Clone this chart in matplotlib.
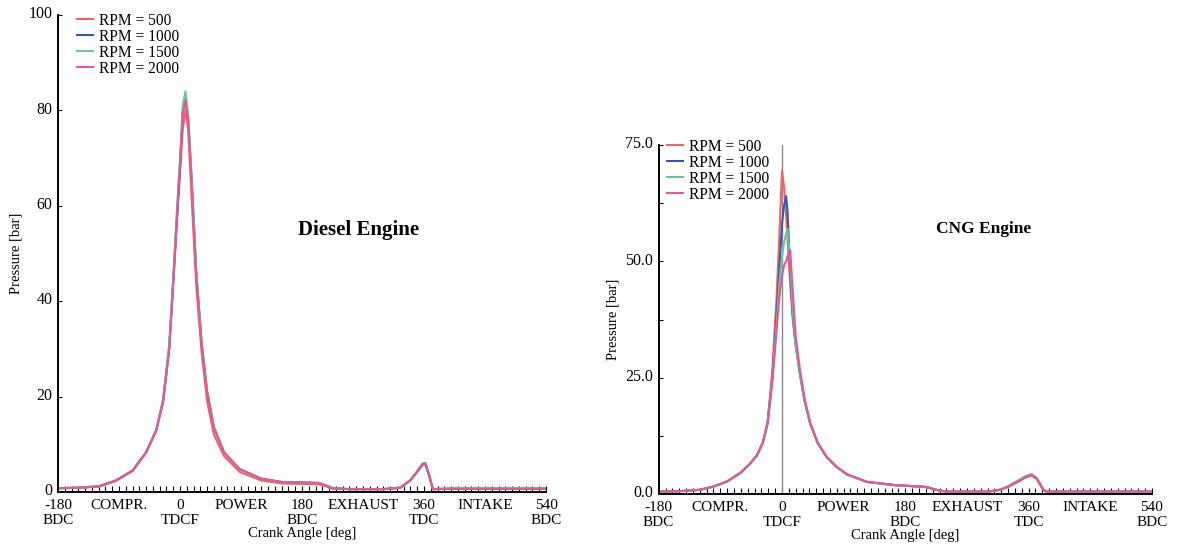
# Curvas de presion en el cilindro: motor diesel vs motor CNG

import matplotlib.pyplot as plt
from matplotlib.ticker import MultipleLocator
from matplotlib.transforms import ScaledTranslation

plt.rcParams['font.family'] = ['Liberation Serif', 'DejaVu Serif']

# Seccion 1: datos

rpm_labels = ['RPM = 500', 'RPM = 1000', 'RPM = 1500', 'RPM = 2000']
rpm_colors = ['#f26461', '#3a56b4', '#67c79b', '#e4579a']

tick_pos = [-180, -90, 0, 90, 180, 270, 360, 450, 540]
tick_txt = ['-180\nBDC', 'COMPR.', '0\nTDCF', 'POWER', '180\nBDC',
            'EXHAUST', '360\nTDC', 'INTAKE', '540\nBDC']

# motor diesel
theta_d = [-180, -150, -120, -95, -70, -50, -35, -25, -16, -10, -5, 0, 4, 8, 12,
           17, 24, 32, 40, 50, 65, 88, 120, 150, 180, 205, 215, 225, 250, 300,
           325, 340, 350, 358, 362, 368, 373, 400, 450, 500, 540]
p_d500 = [0.8, 0.9, 1.1, 2.3, 4.4, 8.3, 13, 19, 30, 44, 56, 67, 76, 80, 76,
          62, 43, 29, 19, 12, 7.5, 4.2, 2.4, 1.8, 1.7, 1.6, 1.2, 0.7, 0.6, 0.6,
          0.9, 2.4, 4.2, 5.7, 5.8, 3.2, 0.6, 0.7, 0.7, 0.7, 0.7]
p_d1000 = [0.8, 0.9, 1.2, 2.4, 4.5, 8.3, 13, 19, 30, 44, 56, 68, 80, 83, 78,
           66, 46, 31, 21, 13.5, 8.3, 4.8, 2.8, 2.1, 2.0, 1.9, 1.4, 0.8, 0.6, 0.6,
           0.9, 2.5, 4.3, 5.9, 6.0, 3.3, 0.6, 0.7, 0.7, 0.7, 0.7]
p_d1500 = [0.8, 0.9, 1.2, 2.4, 4.5, 8.4, 13, 19.5, 31, 45, 58, 70, 81, 84, 79,
           66, 46, 31, 21, 13.5, 8.3, 4.8, 2.8, 2.1, 2.0, 1.9, 1.4, 0.8, 0.6, 0.6,
           0.9, 2.5, 4.4, 6.0, 6.1, 3.4, 0.6, 0.8, 0.8, 0.8, 0.8]
p_d2000 = [0.8, 0.9, 1.2, 2.4, 4.5, 8.3, 13, 19, 30, 44, 57, 69, 79, 82, 78,
           65, 45, 31, 21, 13.5, 8.3, 4.8, 2.8, 2.1, 2.0, 1.9, 1.4, 0.8, 0.6, 0.6,
           0.9, 2.5, 4.3, 5.9, 6.0, 3.3, 0.6, 0.7, 0.7, 0.7, 0.7]

# motor CNG
theta_c = [-180, -150, -120, -100, -80, -61, -48, -37, -28, -21, -14, -8, -4, 0, 3,
           6, 8, 12, 16, 20, 26, 33, 41, 52, 65, 80, 95, 124, 165, 200,
           211, 225, 240, 300, 318, 330, 343, 355, 364, 372, 381, 386, 420, 480, 540]
p_c500 = [0.5, 0.6, 0.9, 1.6, 2.7, 4.5, 6.3, 8.2, 11, 15.5, 27, 42, 55, 69.5, 66,
          60, 55, 45, 37, 32, 26, 20, 15.2, 11, 8, 5.8, 4.2, 2.6, 1.9, 1.6,
          1.5, 0.9, 0.5, 0.5, 0.9, 1.5, 2.5, 3.5, 4.0, 3.2, 1.0, 0.5, 0.5, 0.5, 0.5]
p_c1000 = [0.5, 0.6, 0.9, 1.6, 2.7, 4.5, 6.3, 8.2, 11, 15.2, 25, 38, 48, 58, 62,
           64, 61, 48, 38, 32, 26, 20, 15.2, 11, 8, 5.8, 4.2, 2.6, 1.9, 1.6,
           1.5, 0.9, 0.5, 0.5, 0.9, 1.6, 2.6, 3.6, 4.1, 3.3, 1.0, 0.5, 0.5, 0.5, 0.5]
p_c1500 = [0.5, 0.6, 0.9, 1.6, 2.7, 4.5, 6.3, 8.2, 11, 15.2, 25, 36, 45, 51, 54,
           56, 57, 50, 39, 32, 26, 20, 15.2, 11, 8, 5.8, 4.2, 2.6, 1.9, 1.6,
           1.5, 0.9, 0.5, 0.5, 0.9, 1.7, 2.8, 3.8, 4.3, 3.5, 1.1, 0.5, 0.5, 0.5, 0.5]
p_c2000 = [0.5, 0.6, 0.9, 1.6, 2.7, 4.5, 6.3, 8.2, 11, 15.2, 24, 35, 42, 47, 49,
           50, 51, 52.4, 43, 34, 27, 20.5, 15.5, 11, 8, 5.8, 4.2, 2.6, 1.9, 1.6,
           1.5, 0.9, 0.5, 0.5, 0.9, 1.6, 2.6, 3.6, 4.1, 3.3, 1.0, 0.5, 0.5, 0.5, 0.5]

diesel = [p_d500, p_d1000, p_d1500, p_d2000]
cng = [p_c500, p_c1000, p_c1500, p_c2000]


# Seccion 2: grafica

fig = plt.figure(figsize=(11.77, 5.47), dpi=100)
ax1 = fig.add_axes([0.0493, 0.1005, 0.4146, 0.8721])
ax2 = fig.add_axes([0.5596, 0.0969, 0.4191, 0.6380])

def style_axis(ax, ymax):
    ax.set_xlim(-180, 540)
    ax.set_ylim(0, ymax)
    ax.spines['top'].set_visible(False)
    ax.spines['right'].set_visible(False)
    ax.spines['left'].set_linewidth(1.4)
    ax.spines['bottom'].set_linewidth(1.4)
    ax.set_xticks(tick_pos)
    ax.set_xticklabels(tick_txt)
    ax.xaxis.set_minor_locator(MultipleLocator(10))
    ax.tick_params(axis='x', which='both', direction='in', length=4, width=0.8,
                   labelsize=11, pad=5)
    ax.tick_params(axis='y', which='both', direction='in', length=3, width=0.8,
                   labelsize=11.5, pad=4)
    ax.set_xlabel('Crank Angle [deg]', fontsize=10.5, labelpad=0)
    ax.set_ylabel('Pressure [bar]', fontsize=10.5, labelpad=4)

def lift_ylabels(ax):
    # subir un poco las etiquetas del eje y (como en la original)
    up = ScaledTranslation(0, 2 / 72, fig.dpi_scale_trans)
    for lab in ax.get_yticklabels():
        lab.set_transform(lab.get_transform() + up)

leg_kw = dict(loc='upper left', frameon=False, fontsize=11.2, handlelength=1.0,
              handletextpad=0.4, labelspacing=0.0, borderaxespad=0)

# motor diesel
for p, c, lab in zip(diesel, rpm_colors, rpm_labels):
    ax1.plot(theta_d, p, color=c, lw=1.5, label=lab)
style_axis(ax1, 100)
ax1.set_yticks([0, 20, 40, 60, 80, 100])
lift_ylabels(ax1)
ax1.text(264, 55, 'Diesel Engine', fontsize=15, fontweight='bold',
         ha='center', va='center')
ax1.legend(bbox_to_anchor=(0.027, 1.018), **leg_kw)

# motor CNG
ax2.axvline(0, ymin=0, ymax=1, color='#8a8a8a', lw=1)
for p, c, lab in zip(cng, rpm_colors, rpm_labels):
    ax2.plot(theta_c, p, color=c, lw=1.5, label=lab)
style_axis(ax2, 75)
ax2.set_yticks([0, 25, 50, 75])
ax2.set_yticklabels(['0.0', '25.0', '50.0', '75.0'])
ax2.yaxis.set_minor_locator(MultipleLocator(12.5))
lift_ylabels(ax2)
ax2.text(295, 57, 'CNG Engine', fontsize=12.5, fontweight='bold',
         ha='center', va='center')
ax2.legend(bbox_to_anchor=(0.005, 1.036), **leg_kw)

fig.savefig('out.png', dpi=100)
